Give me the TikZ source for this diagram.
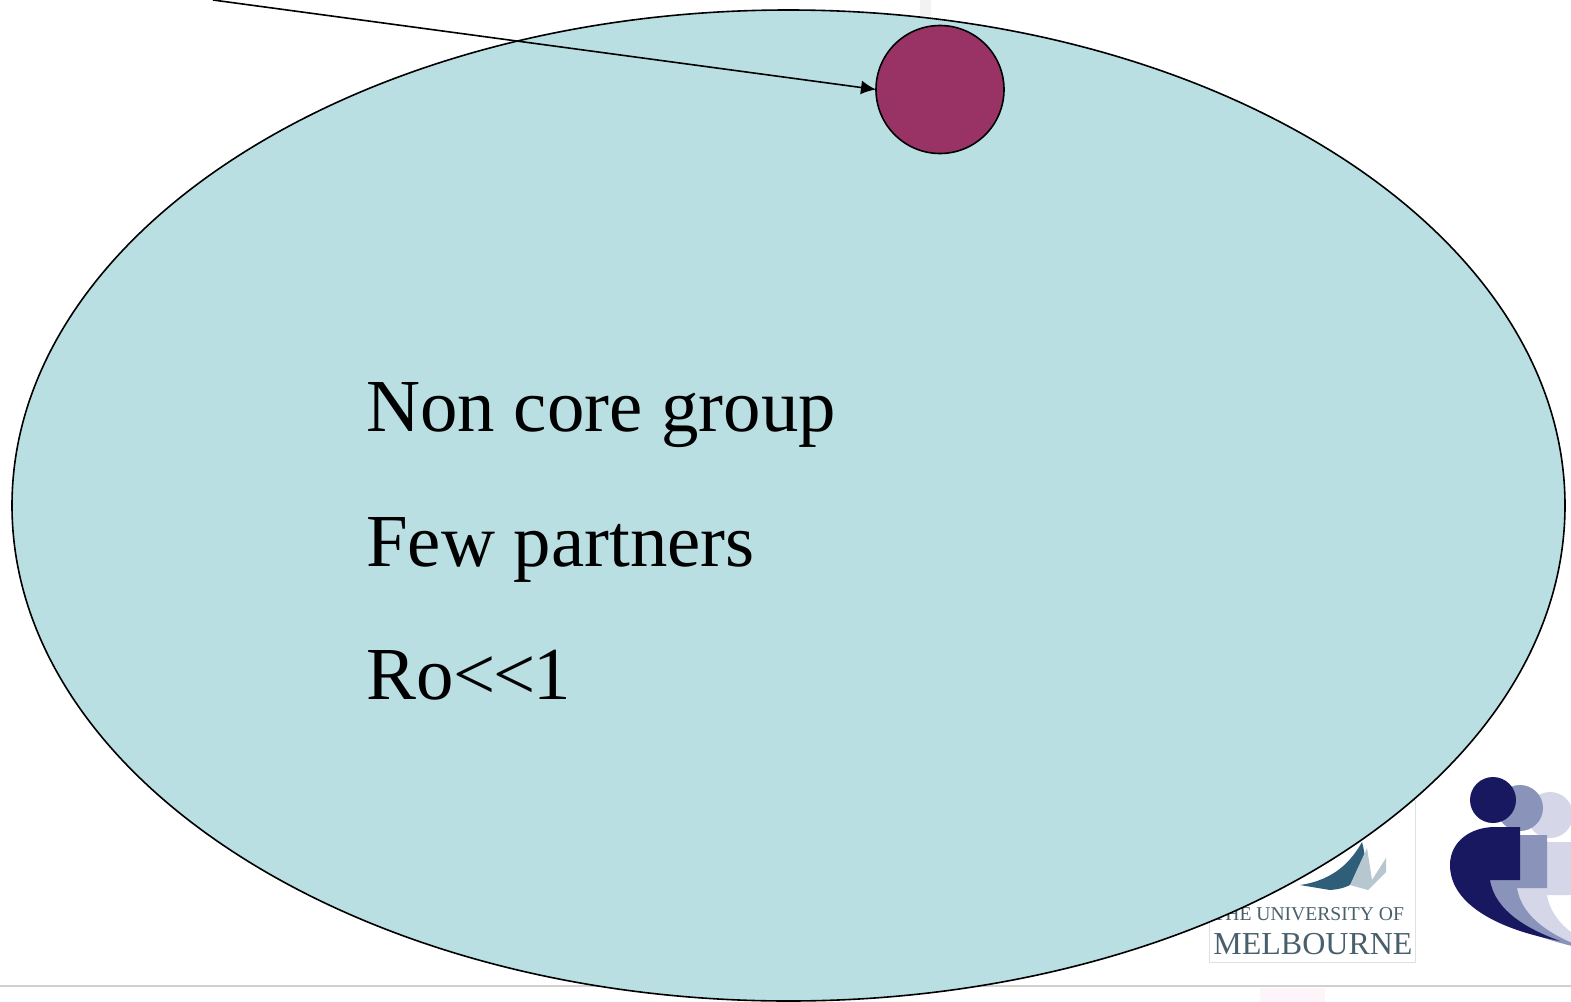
\documentclass[tikz,border=0pt]{standalone}
\usepackage{fontspec}
\setmainfont{Liberation Serif}
\usepackage{xcolor}
\usetikzlibrary{arrows.meta,positioning,shapes.geometric}
\definecolor{noncore}{HTML}{B9DFE3}
\definecolor{core}{HTML}{993366}
\definecolor{figdark}{HTML}{17185F}
\definecolor{figmid}{HTML}{8A93BA}
\definecolor{figlight}{HTML}{D5D7E8}
\definecolor{crest}{HTML}{2F5F78}

\begin{document}
\begin{tikzpicture}[
	x=.5pt,
	y=-.5pt,
	line join=round,
	group/.style={ellipse,draw=black,fill=noncore,line width=.8pt,inner sep=0pt,outer sep=0pt,
		minimum width=776.5pt,minimum height=495.5pt},
	person/.style={circle,draw=black,fill=core,line width=.8pt,inner sep=0pt,outer sep=0pt,
		minimum size=64pt},
	label/.style={anchor=base west,inner sep=0pt,font=\fontsize{37.4}{38}\selectfont},
	crestname/.style={anchor=base west,inner sep=0pt,text=crest!60!black,opacity=.8}
	]
	
	\useasboundingbox (0,0) rectangle (1571,1002);
	
	%------------------------------
	% Faint slide background
	%------------------------------
	\fill[black!5] (920,0) rectangle (931,16);
	\fill[black!18] (0,985) -- (1571,985) -- (1571,987) -- (0,987) -- cycle;
	\fill[magenta!4] (1260,988) rectangle (1325,1002);
	
	%------------------------------
	% Melbourne logo behind the group
	%------------------------------
	\draw[black!12,fill=white] (1209,800) rectangle (1415,962);
	\fill[crest] (1300,885) .. controls (1335,880) and (1352,860) .. (1362,842)
		.. controls (1370,870) and (1360,888) .. (1330,890) -- cycle;
	\fill[crest!35] (1350,885) -- (1367,848) -- (1372,880) -- (1386,858) -- (1386,872) -- (1368,890) -- cycle;
	\node[crestname,font=\fontsize{9.8}{10}\selectfont] (crestone) at (1213,920) {THE UNIVERSITY OF};
	\node[crestname,font=\fontsize{16}{16}\selectfont] (cresttwo) at (1213,954) {MELBOURNE};
	
	%------------------------------
	% Three figures, back to front
	%------------------------------
	\foreach \dx/\dy/\col in {57/15/figlight,27/8/figmid,0/0/figdark}{
		\begin{scope}[xshift=\dx*.5pt,yshift=-\dy*.5pt]
			\fill[\col] (1493,800) circle (23);
			\fill[\col] (1520,827) -- (1520,880) -- (1490,880)
				.. controls (1495,912) and (1530,930) .. (1560,941)
				.. controls (1500,930) and (1450,905) .. (1450,865)
				.. controls (1450,842) and (1470,827) .. (1495,827) -- cycle;
		\end{scope}
	}
	
	%------------------------------
	% Group, partner and arrow
	%------------------------------
	\node[group] (nongroup) at (788.5,505.5) {};
	\node[person] (partner) at (940,89.5) {};
	\coordinate (origin) at (213,0);
	\draw[-{Latex[length=7.5pt,width=7pt]},line width=.8pt] (origin) -- (partner.west);
	
	\node[label] (name) at (366,431) {Non core group};
	\node[label] (partners) at (366,566) {Few partners};
	\node[label] (ro) at (366,699) {Ro<\kern-1.25pt<\kern-1.25pt 1};
\end{tikzpicture}
\end{document}
